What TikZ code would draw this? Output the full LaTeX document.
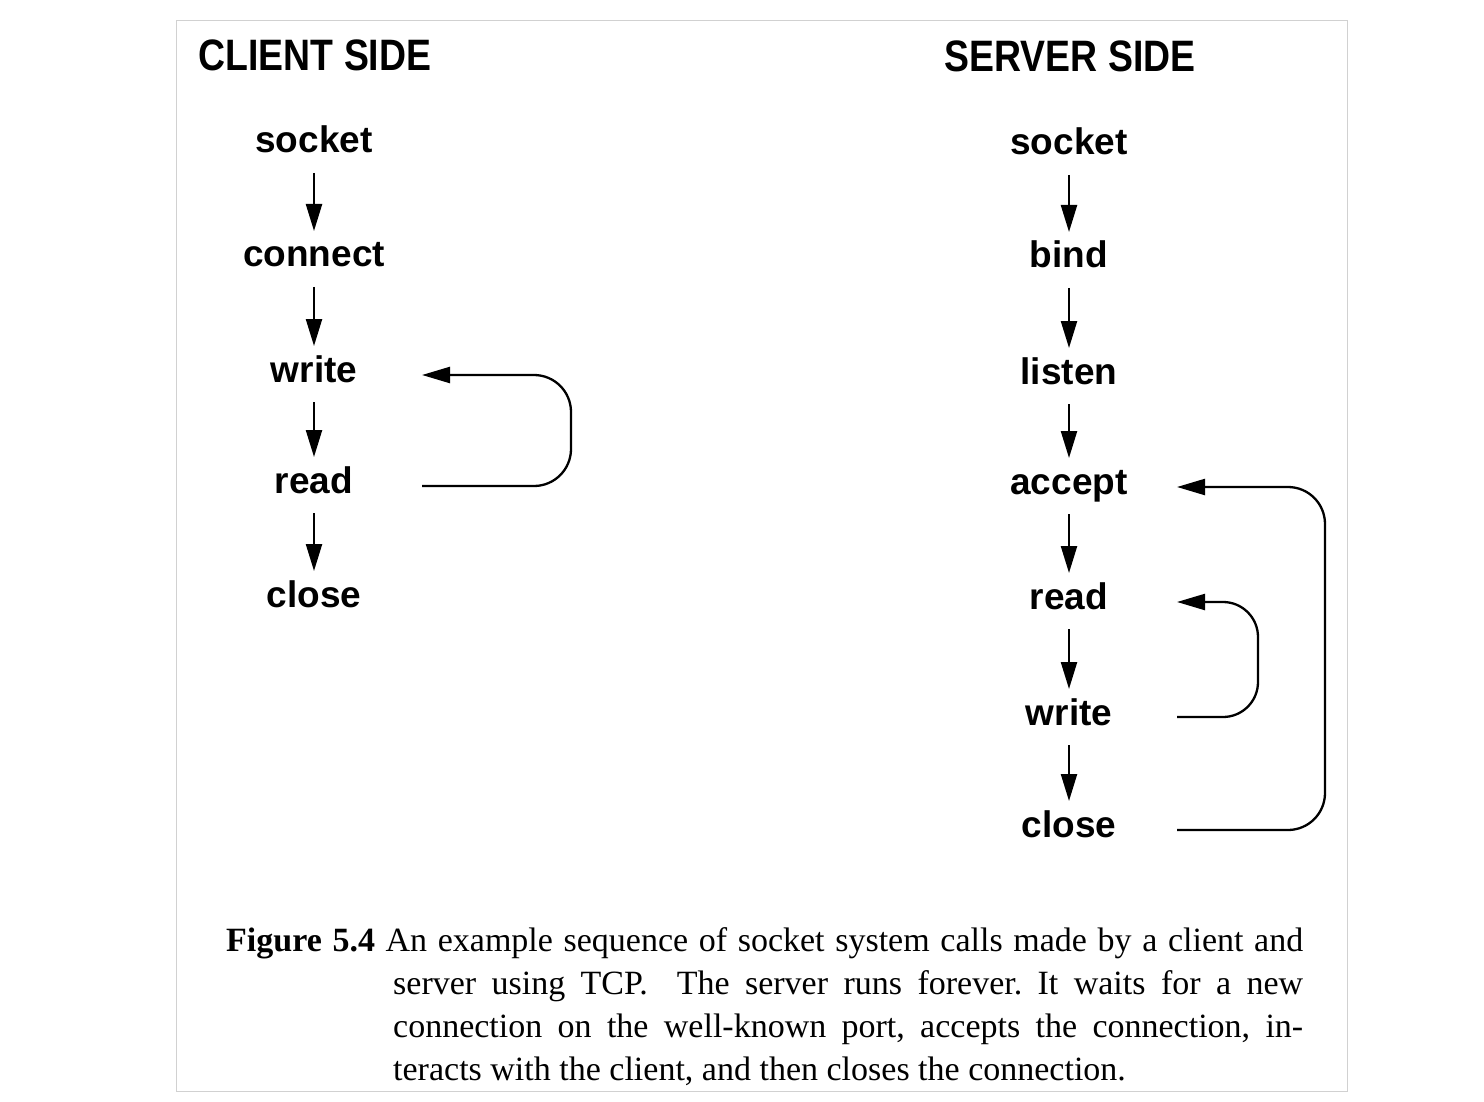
\documentclass[tikz,border=0pt]{standalone}
\usepackage{fontspec}
\setmainfont{Liberation Serif}
\newfontfamily\hvfont{Liberation Sans}
\usetikzlibrary{arrows.meta,calc}
\tikzset{
  word/.style={font=\hvfont\bfseries\fontsize{37}{40}\selectfont, inner sep=0pt, anchor=base},
  title/.style={font=\hvfont\bfseries\fontsize{44}{48}\selectfont, inner sep=0pt, anchor=base, xscale=0.85},
  arr/.style={line width=2.3pt, -{Triangle[length=27pt,width=16pt]}},
  loop/.style={line width=2.3pt, -{Triangle[length=28pt,width=16pt]}},
}
\begin{document}
\begin{tikzpicture}[x=1pt,y=-1pt]
\useasboundingbox (0,0) rectangle (1484,1102);
\draw[black!18, line width=1pt] (176,21) rectangle (1347,1091);
% titles
\node[title] (tc) at (315,71) {CLIENT SIDE};
\node[title] (ts) at (1070,72) {SERVER SIDE};
% client column
\node[word] (csocket) at (314,153) {socket};
\node[word] (cconnect) at (314,267) {connect};
\node[word] (cwrite) at (314,382) {write};
\node[word] (cread) at (314,493) {read};
\node[word] (cclose) at (314,607) {close};
% server column
\node[word] (ssocket) at (1069,155) {socket};
\node[word] (sbind) at (1069,268) {bind};
\node[word] (slisten) at (1069,384) {listen};
\node[word] (saccept) at (1069,494) {accept};
\node[word] (sread) at (1069,609) {read};
\node[word] (swrite) at (1069,725) {write};
\node[word] (sclose) at (1069,837) {close};
% vertical arrows
\foreach \a/\b in {csocket/cconnect,cconnect/cwrite,cwrite/cread,cread/cclose,
                   ssocket/sbind,sbind/slisten,slisten/saccept,saccept/sread,sread/swrite,swrite/sclose}
  \draw[arr] ($(\a.base)+(0,20)$) -- ($(\b.base)+(0,-36)$);
% client loop
\draw[loop, rounded corners=37pt] ($(cread.base)+(108,-7)$) -- ($(cread.base)+(257,-7)$)
   -- ($(cwrite.base)+(257,-7)$) -- ($(cwrite.base)+(108,-7)$);
% server inner loop
\draw[loop, rounded corners=35pt] ($(swrite.base)+(108,-8)$) -- ($(swrite.base)+(189,-8)$)
   -- ($(sread.base)+(189,-7)$) -- ($(sread.base)+(108,-7)$);
% server outer loop
\draw[loop, rounded corners=37pt] ($(sclose.base)+(108,-7)$) -- ($(sclose.base)+(256,-7)$)
   -- ($(saccept.base)+(256,-7)$) -- ($(saccept.base)+(108,-7)$);
% caption
\node[anchor=north west, inner sep=0pt, text width=1077pt, align=justify,
      font=\fontsize{34}{43}\selectfont] (cap) at (226,927) {%
  \frenchspacing
  \textbf{Figure 5.4} An example sequence of socket system calls made by a client and\linebreak
  server using TCP.\hspace{0.4em} The server runs forever. It waits for a new\linebreak
  connection on the well-known port, accepts the connection, in-\linebreak
  teracts with the client, and then closes the connection.\hangindent=167pt\hangafter=1\par};
\end{tikzpicture}
\end{document}
